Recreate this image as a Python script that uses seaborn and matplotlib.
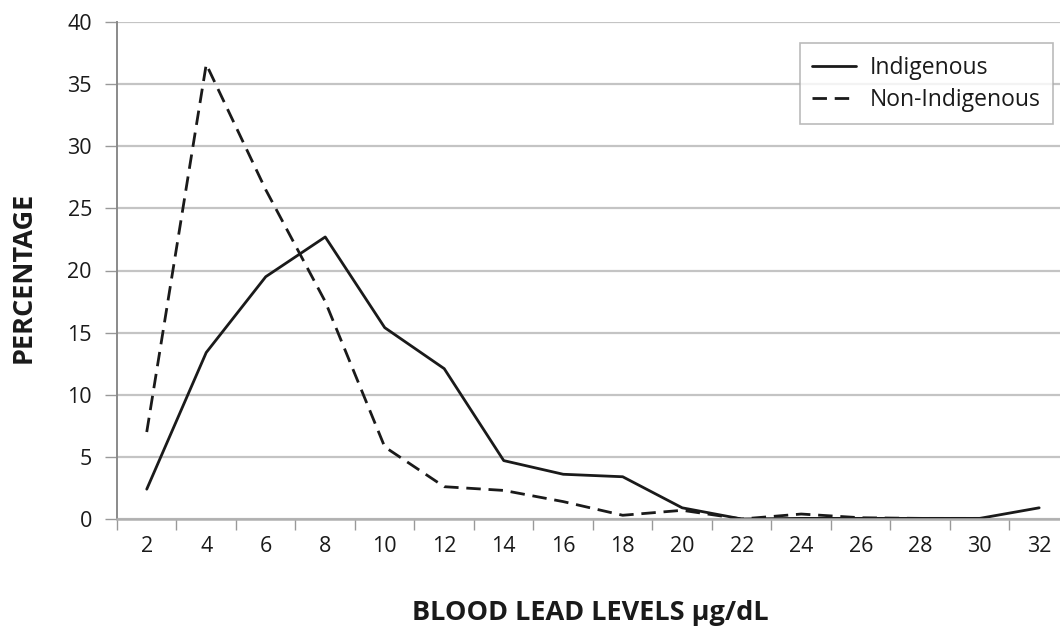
import numpy as np
import pandas as pd
import matplotlib
matplotlib.use("Agg")
import matplotlib.pyplot as plt
import seaborn as sns

levels = [2, 4, 6, 8, 10, 12, 14, 16, 18, 20, 22, 24, 26, 28, 30, 32]
indigenous = [2.4, 13.4, 19.5, 22.7, 15.4, 12.1, 4.7, 3.6, 3.4, 0.9, 0.0, 0.05, 0.05, 0.05, 0.05, 0.9]
non_indigenous = [7.0, 36.6, 26.5, 17.5, 5.8, 2.6, 2.3, 1.4, 0.3, 0.7, 0.0, 0.4, 0.1, 0.05, 0.05, np.nan]
series_names = ["Indigenous", "Non-Indigenous"]
y_ticks = [0, 5, 10, 15, 20, 25, 30, 35, 40]

df = pd.DataFrame({
    "level": levels * 2,
    "pct": indigenous + non_indigenous,
    "group": [series_names[0]] * len(levels) + [series_names[1]] * len(levels),
})

sns.set_theme(style="white")
plt.rcParams["font.family"] = ["Open Sans", "DejaVu Sans"]

fig = plt.figure(figsize=(10.6, 6.34), dpi=100)
ax = fig.add_axes([117 / 1060, 1 - 519 / 634, 943 / 1060, 497 / 634])

sns.lineplot(data=df, x="level", y="pct", style="group", style_order=series_names,
             dashes={series_names[0]: "", series_names[1]: (5.2, 2.8)},
             color="#1a1a1a", linewidth=2.0, ax=ax, legend=True)

ax.set_xlim(1, 32.7)
ax.set_ylim(0, 40)
ax.set_yticks(y_ticks)
ax.set_xticks(levels)
ax.set_xticks([l + 1 for l in levels[:-1]] + [1], minor=True)
ax.yaxis.grid(True, color="#c4c4c4", linewidth=1.6)
ax.xaxis.grid(False)
ax.set_axisbelow(True)

for s in ["top", "right"]:
    ax.spines[s].set_visible(False)
ax.spines["left"].set_color("#8a8a8a")
ax.spines["left"].set_linewidth(1.4)
ax.spines["bottom"].set_color("#b0b0b0")
ax.spines["bottom"].set_linewidth(1.8)

ax.tick_params(axis="x", which="major", length=0, pad=12, labelsize=15.5, labelcolor="#1a1a1a")
ax.tick_params(axis="x", which="minor", length=8, width=1.0, color="#999999", direction="out")
ax.tick_params(axis="y", which="major", length=9, width=1.0, color="#999999", direction="out",
               pad=9, labelsize=15.5, labelcolor="#1a1a1a")
ax.xaxis.set_tick_params(bottom=True, which="both")
ax.yaxis.set_tick_params(left=True)

ax.set_xlabel("BLOOD LEAD LEVELS µg/dL", fontsize=19.5, fontweight="bold", color="#1a1a1a")
ax.set_ylabel("PERCENTAGE", fontsize=19.5, fontweight="bold", color="#1a1a1a")
ax.xaxis.set_label_coords((590 - 117) / 943, -(600 - 519) / 497)
ax.yaxis.set_label_coords(-(117 - 37) / 943, (519 - 277) / 497)

handles, labels = ax.get_legend_handles_labels()
leg = ax.legend(handles, labels, loc="upper right", bbox_to_anchor=(1053 / 1060, 1 - 43 / 634),
                bbox_transform=fig.transFigure, frameon=True, fancybox=False, fontsize=16.5,
                handlelength=1.9, borderpad=0.55, labelspacing=0.35, handletextpad=0.6,
                borderaxespad=0)
leg.get_frame().set_edgecolor("#aaaaaa")
leg.get_frame().set_linewidth(1.2)
for t in leg.get_texts():
    t.set_color("#1a1a1a")

fig.savefig("out.png", dpi=100)
